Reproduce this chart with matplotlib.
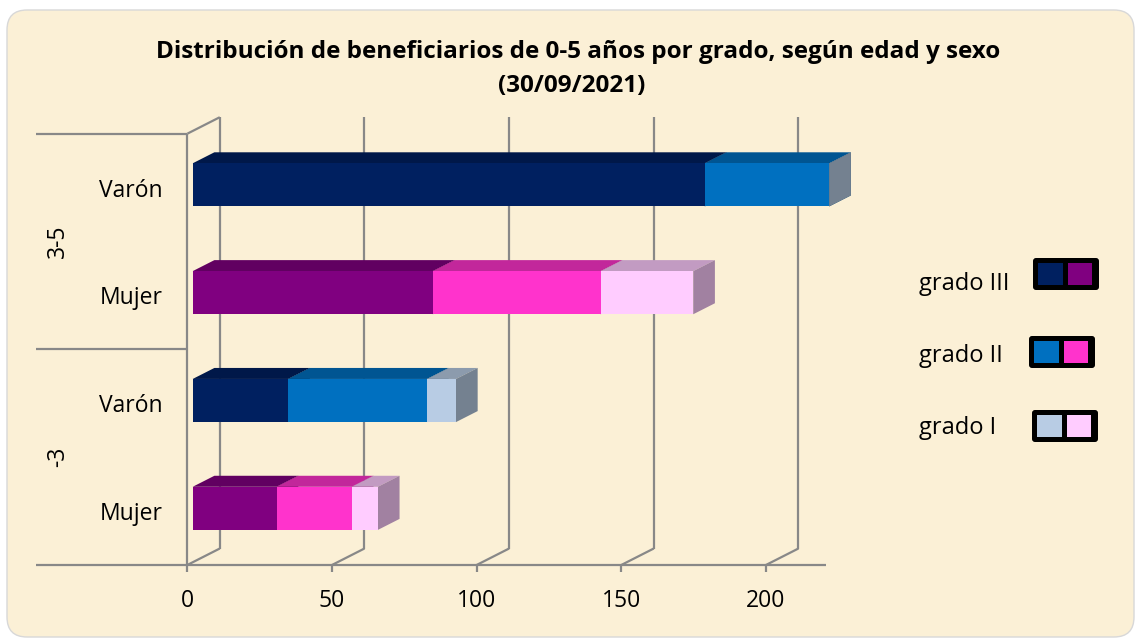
import matplotlib
matplotlib.use('Agg')
import matplotlib.pyplot as plt
from matplotlib.patches import Polygon, FancyBboxPatch, Rectangle
from matplotlib.colors import to_rgb
import matplotlib.transforms as mtransforms

plt.rcParams['font.family'] = ['Open Sans', 'DejaVu Sans']

# data (bottom to top)
categorias = ['Mujer', 'Varón', 'Mujer', 'Varón']
sexo = ['M', 'V', 'M', 'V']
edades = ['-3', '3-5']
grados = ['grado III', 'grado II', 'grado I']
grado_III = [29, 33, 83, 177]
grado_II = [26, 48, 58, 43]
grado_I = [9, 10, 32, 0]
x_ticks = [0, 50, 100, 150, 200]

colores = {'V': ['#002060', '#0070C0', '#B8CCE4'],
           'M': ['#800080', '#FF33CC', '#FFCCFF']}


def shade(c, f):
    return tuple(v * f for v in to_rgb(c))


W, H = 1136, 639
fig = plt.figure(figsize=(W / 100, H / 100), dpi=100)
fig.patch.set_facecolor('white')

# chart area (rounded, parchment colour)
bg = FancyBboxPatch((0.07, 0.02), 11.27, 6.27, boxstyle='round,pad=0,rounding_size=0.2',
                    transform=fig.dpi_scale_trans, facecolor='#FBF0D6', edgecolor='#D8D8D8',
                    lw=1, zorder=0)
fig.add_artist(bg)

# plot area
x0p, x1p, ytop, ybot = 187.3, 823.8, 133.7, 565
ax = fig.add_axes([x0p / W, 1 - ybot / H, (x1p - x0p) / W, (ybot - ytop) / H])
ax.set_xlim(0, 220)
ax.set_ylim(-0.5, 3.5)
ax.patch.set_alpha(0)
for s in ax.spines.values():
    s.set_visible(False)

sx = (x1p - x0p) / 220
sy = (ybot - ytop) / 4
Dx, Dy = 32.5 / sx, 16.5 / sy   # depth of the 3d box in data units

grid_c = '#888888'
lw = 1.6
lk = dict(color=grid_c, lw=lw, clip_on=False, solid_capstyle='butt')

# back wall gridlines and floor diagonals
for v in x_ticks:
    ax.plot([v + Dx, v + Dx], [-0.5 + Dy, 3.5 + Dy], zorder=1, **lk)
    ax.plot([v, v + Dx], [-0.5, -0.5 + Dy], zorder=1, **lk)
ax.plot([0, 0], [-0.5, 3.5], zorder=1, **lk)
ax.plot([0, Dx], [3.5, 3.5 + Dy], zorder=1, **lk)

# category axis lines (multi-level)
xl = (36 - x0p) / sx
for y in [-0.5, 1.5, 3.5]:
    ax.plot([xl, 0], [y, y], zorder=1, **lk)
ax.plot([0, 220.6], [-0.5, -0.5], zorder=1, **lk)

# 3d stacked bars
h = 0.4
f, d = 1 / 6, 2 / 3
pos = list(range(len(categorias)))
series = [grado_III, grado_II, grado_I]
for i, y in enumerate(pos):
    left = 0
    for k, vals in enumerate(series):
        w = vals[i]
        c = colores[sexo[i]][k]
        xa = left + f * Dx
        xb = xa + w
        yb = y - h / 2 + f * Dy
        yt = y + h / 2 + f * Dy
        if w > 0:
            ax.barh(y + f * Dy, w, height=h, left=xa, color=c, zorder=3, linewidth=0,
                    clip_on=False)
        ax.add_patch(Polygon([(xa, yt), (xb, yt), (xb + d * Dx, yt + d * Dy), (xa + d * Dx, yt + d * Dy)],
                             closed=True, facecolor=shade(c, 0.76), lw=0, zorder=2, clip_on=False))
        ax.add_patch(Polygon([(xb, yb), (xb, yt), (xb + d * Dx, yt + d * Dy), (xb + d * Dx, yb + d * Dy)],
                             closed=True, facecolor=shade(c, 0.63), lw=0, zorder=2, clip_on=False))
        left += w

# axes ticks and labels
ax.set_xticks(x_ticks)
ax.set_xticklabels([str(v) for v in x_ticks], fontsize=16.5)
ax.tick_params(axis='x', length=5, width=lw, color=grid_c, pad=12)
ax.set_yticks(pos)
ax.set_yticklabels(categorias, fontsize=16.5)
ax.tick_params(axis='y', length=0, pad=18)

tr = mtransforms.blended_transform_factory(ax.transAxes, ax.transData)
for j, e in enumerate(edades):
    ax.text((58 - x0p) / (x1p - x0p), 2 * j + 0.5, e, transform=tr, rotation=90,
            ha='center', va='center', fontsize=16.5)

# title
fig.text(578.5 / W, 1 - 58 / H, 'Distribución de beneficiarios de 0-5 años por grado, según edad y sexo',
         ha='center', va='baseline', fontsize=17.5, fontweight='bold')
fig.text(571.5 / W, 1 - 92 / H, '(30/09/2021)', ha='center', va='baseline', fontsize=17.5,
         fontweight='bold')

# legend
ley_txt_y = [290, 362, 434]
ley_box_x = [1033, 1029, 1032]
ley_box_y = [258, 336, 410]
for k, g in enumerate(grados):
    fig.text(919 / W, 1 - ley_txt_y[k] / H, g, ha='left', va='baseline', fontsize=17)
    bx, by = ley_box_x[k], ley_box_y[k]
    fig.add_artist(FancyBboxPatch((bx / 100, (H - by - 32) / 100), 0.66, 0.32,
                                  boxstyle='round,pad=0,rounding_size=0.03',
                                  transform=fig.dpi_scale_trans, facecolor='black', lw=0))
    for m, sx_ in enumerate(['V', 'M']):
        fig.add_artist(Rectangle(((bx + 5 + m * 29.5) / 100, (H - by - 27) / 100), 0.245, 0.22,
                                 transform=fig.dpi_scale_trans,
                                 facecolor=colores[sx_][k], lw=0))

fig.savefig('out.png', dpi=100)
